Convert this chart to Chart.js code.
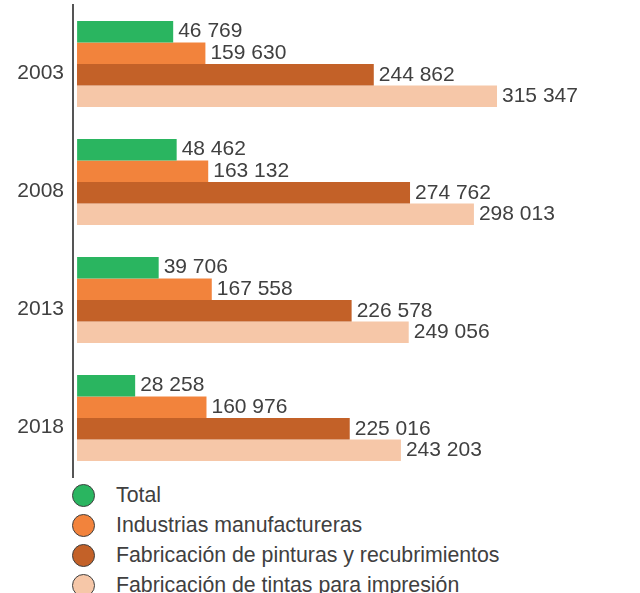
<!DOCTYPE html>
<html>
<head>
<meta charset="utf-8">
<script src="https://cdn.jsdelivr.net/npm/chart.js@4"></script>
<style>
  html, body { margin: 0; padding: 0; background: #fff; overflow: hidden; }
  #wrap { position: relative; width: 640px; height: 593px; }
  #chart { display: block; }
  #legend { position: absolute; left: 0; top: 480px; font-family: "Liberation Sans", Arial, sans-serif; font-size: 21.3px; color: #404040; }
  .item { height: 30px; display: flex; align-items: center; }
  .dot { width: 21px; height: 21px; border-radius: 50%; border: 1.5px solid #404040; margin-left: 72px; margin-right: 21px; }
</style>
</head>
<body>
<div id="wrap">
  <canvas id="chart" width="640" height="480"></canvas>
  <div id="legend"></div>
</div>
<script>
// Data
const years = ['2003', '2008', '2013', '2018'];
const seriesNames = ['Total', 'Industrias manufactureras', 'Fabricación de pinturas y recubrimientos', 'Fabricación de tintas para impresión'];
const total = [46769, 48462, 39706, 28258];
const manufactureras = [159630, 163132, 167558, 160976];
const pinturas = [244862, 274762, 226578, 225016];
const tintas = [315347, 298013, 249056, 243203];

const colors = ['#2ab560', '#f2833c', '#c36128', '#f6c7a8'];
// each series is drawn on its own (hidden) value scale, as in the original graphic
const axisRange = [[-2000, 274000], [-5000, 700000], [-3300, 464500], [-3000, 422700]];

const fmt = v => String(v).replace(/\B(?=(\d{3})+(?!\d))/g, ' ');

const valueLabels = {
  id: 'valueLabels',
  afterDatasetsDraw(chart) {
    const ctx = chart.ctx;
    ctx.save();
    ctx.font = '21px "Liberation Sans", Arial, sans-serif';
    ctx.fillStyle = '#404040';
    ctx.textAlign = 'left';
    ctx.textBaseline = 'middle';
    chart.data.datasets.forEach((ds, i) => {
      chart.getDatasetMeta(i).data.forEach((bar, j) => {
        ctx.fillText(fmt(ds.data[j]), bar.x + 5, bar.y);
      });
    });
    ctx.restore();
  }
};

const seriesData = [total, manufactureras, pinturas, tintas];
const scales = {
  y: {
    grid: { display: false, drawTicks: false },
    border: { display: true, color: '#555', width: 2 },
    ticks: {
      color: '#404040',
      padding: 9,
      font: { family: '"Liberation Sans", Arial, sans-serif', size: 21, lineHeight: 0.9 },
      callback: function(val) { return ['', this.getLabelForValue(val)]; }
    },
    afterFit(scale) {
      scale.width = 73;
      scale.paddingTop = 0;
      scale.paddingBottom = 0;
    }
  }
};
seriesData.forEach((d, i) => {
  scales['x' + i] = { type: 'linear', position: 'bottom', display: false, min: axisRange[i][0], max: axisRange[i][1] };
});

new Chart(document.getElementById('chart'), {
  type: 'bar',
  data: {
    labels: years,
    datasets: seriesData.map((d, i) => ({
      label: seriesNames[i],
      data: d,
      xAxisID: 'x' + i,
      backgroundColor: colors[i],
      borderWidth: 0,
      barPercentage: 1,
      categoryPercentage: 0.73
    }))
  },
  options: {
    indexAxis: 'y',
    responsive: false,
    animation: false,
    layout: { padding: { top: 5, bottom: 3, left: 0, right: 0 } },
    plugins: { legend: { display: false }, tooltip: { enabled: false } },
    scales
  },
  plugins: [valueLabels]
});

// Legend
const legend = document.getElementById('legend');
seriesNames.forEach((name, i) => {
  const row = document.createElement('div');
  row.className = 'item';
  const dot = document.createElement('span');
  dot.className = 'dot';
  dot.style.background = colors[i];
  const txt = document.createElement('span');
  txt.textContent = name;
  row.appendChild(dot);
  row.appendChild(txt);
  legend.appendChild(row);
});
</script>
</body>
</html>
